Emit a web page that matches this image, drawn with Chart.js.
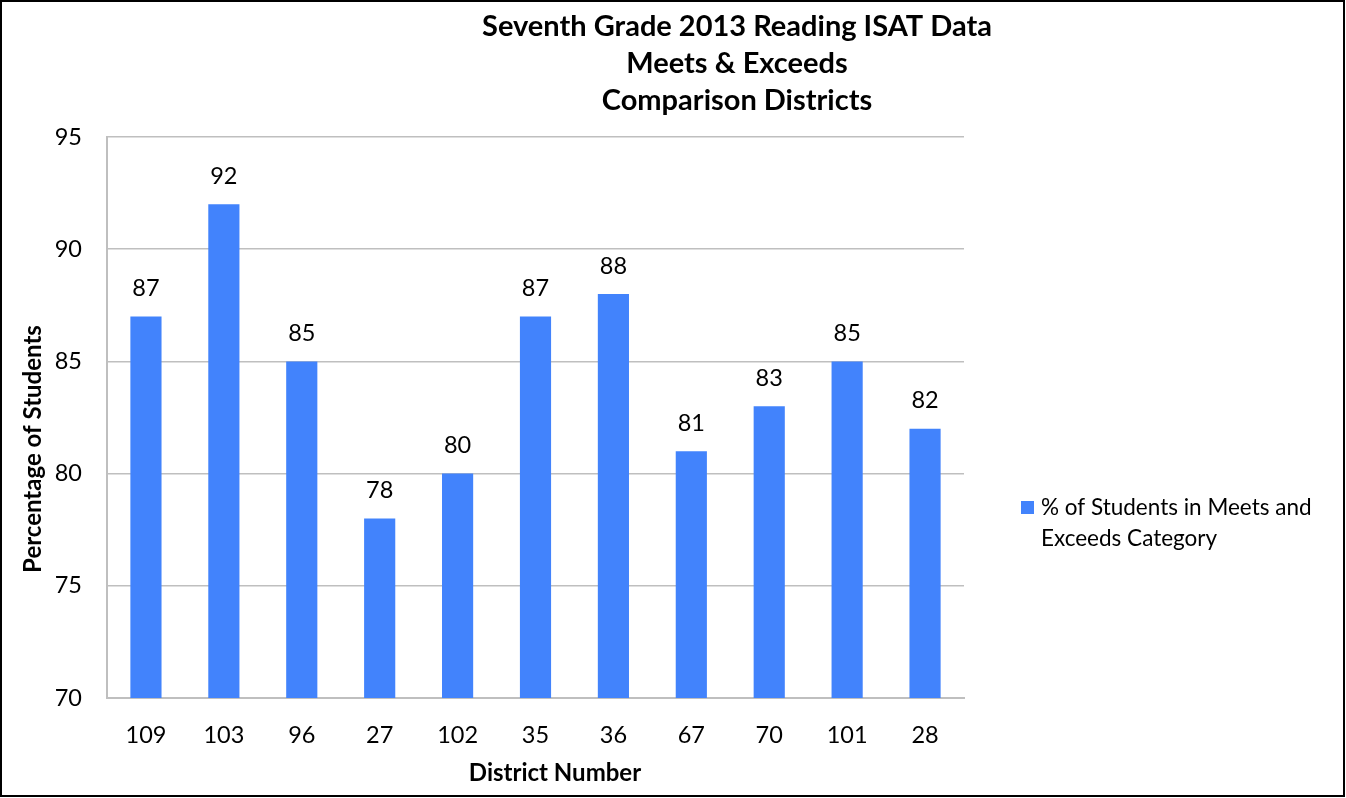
<!DOCTYPE html>
<html>
<head>
<meta charset="utf-8">
<script src="https://cdn.jsdelivr.net/npm/chart.js@4.4.0/dist/chart.umd.min.js"></script>
<style>
  body { margin: 0; background: #fff; }
</style>
</head>
<body>
<canvas id="myChart" width="1346" height="798"></canvas>
<script>
// ====== Seventh Grade Reading ISAT chart =========

const districts = ["109", "103", "96", "27", "102", "35", "36", "67", "70", "101", "28"];
const percentMeets = [87, 92, 85, 78, 80, 87, 88, 81, 83, 85, 82];
const titleLines = ["Seventh Grade 2013 Reading ISAT Data", "Meets & Exceeds", "Comparison Districts"];
const seriesName = ["% of Students in Meets and", "Exceeds Category"];

const FONT = "Lato, 'Open Sans', sans-serif";
const barColor = "#4283FC";

// draws the texts that the chart sits in: title, axis titles, legend, frame
const extras = {
  id: "extras",
  afterDraw(chart) {
    const ctx = chart.ctx;
    ctx.save();
    ctx.fillStyle = "#000";
    ctx.textBaseline = "middle";

    // data labels
    ctx.font = "23.5px " + FONT;
    ctx.textAlign = "center";
    const meta = chart.getDatasetMeta(0);
    meta.data.forEach((bar, i) => {
      ctx.fillText(percentMeets[i], bar.x, bar.y - 28);
    });

    // title
    ctx.font = "bold 29px " + FONT;
    const ty = [27, 64, 101];
    for (let i = 0; i < titleLines.length; i++) {
      ctx.fillText(titleLines[i], 737, ty[i]);
    }

    // axis titles
    ctx.font = "bold 24px " + FONT;
    ctx.fillText("District Number", 555, 773);
    ctx.save();
    ctx.translate(33, 449);
    ctx.rotate(-Math.PI / 2);
    ctx.fillText("Percentage of Students", 0, 0);
    ctx.restore();

    // legend
    ctx.fillStyle = barColor;
    ctx.fillRect(1021, 501, 13, 13);
    ctx.fillStyle = "#000";
    ctx.textAlign = "left";
    ctx.font = "22.5px " + FONT;
    ctx.fillText(seriesName[0], 1041, 508);
    ctx.fillText(seriesName[1], 1041, 539);

    // frame
    ctx.strokeStyle = "#000";
    ctx.lineWidth = 2;
    ctx.strokeRect(1, 1, 1343, 795);
    ctx.restore();
  },
};

let ctx = document.getElementById("myChart").getContext("2d");

var graphie = new Chart(ctx, {
  type: "bar",
  data: {
    labels: districts,
    datasets: [
      {
        label: seriesName.join(" "),
        data: percentMeets,
        backgroundColor: barColor,
        barPercentage: 0.4,
        categoryPercentage: 1,
      },
    ],
  },
  options: {
    responsive: false,
    animation: false,
    layout: {
      padding: { left: 0, right: 382, top: 137, bottom: 0 },
    },
    plugins: {
      legend: { display: false },
      tooltip: { enabled: false },
    },
    scales: {
      x: {
        grid: { display: false, drawTicks: false },
        border: { display: true, color: "#BFBFBF", width: 2 },
        ticks: {
          color: "#000",
          font: { family: FONT, size: 23.5 },
          padding: 23,
        },
        afterFit: (scale) => {
          scale.height = 100;
        },
      },
      y: {
        min: 70,
        max: 95,
        ticks: {
          stepSize: 5,
          color: "#000",
          font: { family: FONT, size: 23.5 },
          padding: 25,
        },
        grid: { color: "#BFBFBF", lineWidth: 1.5, drawTicks: false },
        border: { display: true, color: "#BFBFBF", width: 2 },
        afterFit: (scale) => {
          scale.width = 107;
        },
      },
    },
  },
  plugins: [extras],
});
</script>
</body>
</html>
